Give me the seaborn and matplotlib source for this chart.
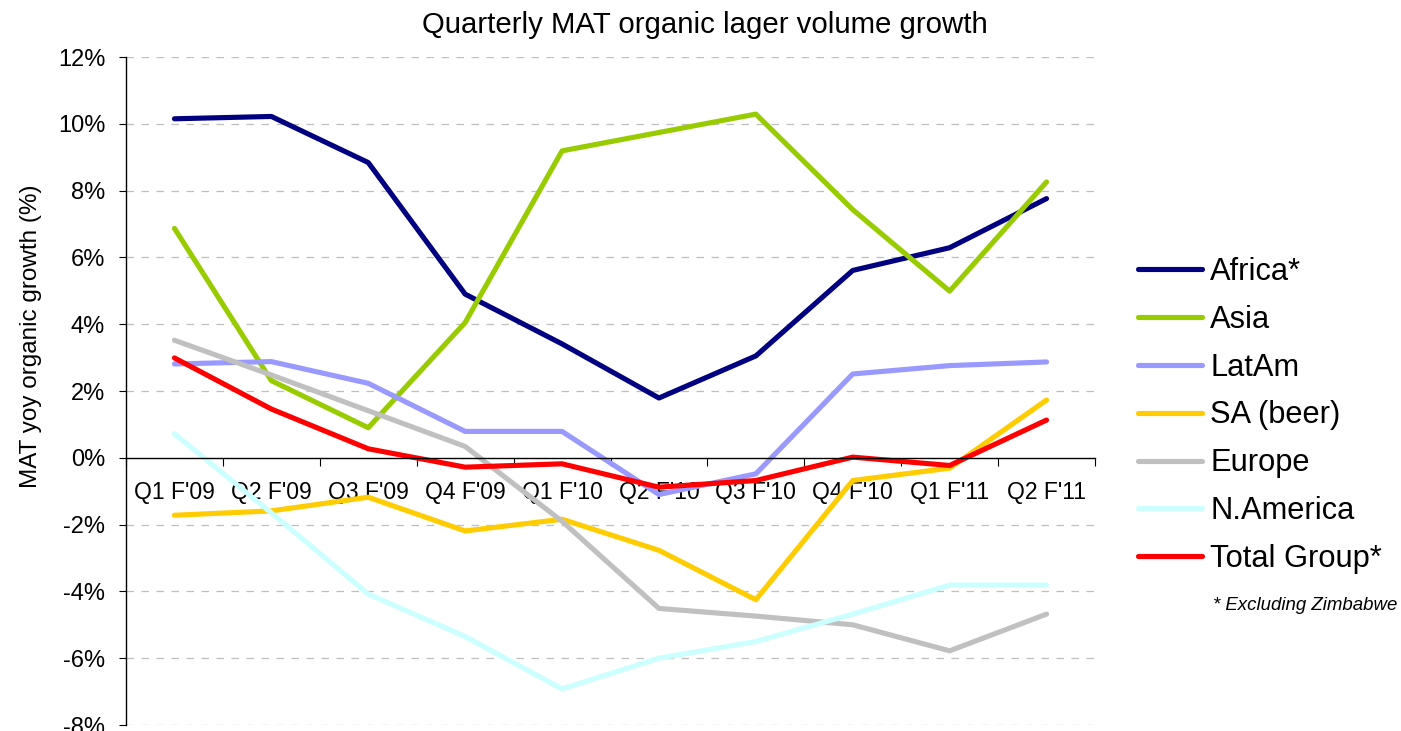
import numpy as np
import pandas as pd
import matplotlib
matplotlib.use("Agg")
import matplotlib.pyplot as plt
import seaborn as sns
from matplotlib.ticker import FixedLocator, FuncFormatter

quarters = ["Q1 F'09", "Q2 F'09", "Q3 F'09", "Q4 F'09", "Q1 F'10",
            "Q2 F'10", "Q3 F'10", "Q4 F'10", "Q1 F'11", "Q2 F'11"]

africa = [10.15, 10.22, 8.84, 4.90, 3.41, 1.79, 3.05, 5.61, 6.29, 7.76]
asia = [6.87, 2.31, 0.90, 4.05, 9.19, 9.74, 10.29, 7.43, 4.99, 8.26]
latam = [2.81, 2.88, 2.23, 0.79, 0.79, -1.10, -0.48, 2.51, 2.76, 2.87]
sa_beer = [-1.72, -1.59, -1.18, -2.19, -1.84, -2.77, -4.25, -0.68, -0.31, 1.73]
europe = [3.52, 2.48, 1.41, 0.34, -1.90, -4.51, -4.74, -5.00, -5.78, -4.68]
n_america = [0.72, -1.65, -4.08, -5.35, -6.92, -6.00, -5.50, -4.68, -3.81, -3.81]
total_group = [2.99, 1.46, 0.27, -0.28, -0.18, -0.88, -0.68, 0.02, -0.23, 1.13]

series_names = ["Africa*", "Asia", "LatAm", "SA (beer)", "Europe", "N.America", "Total Group*"]
series_values = [africa, asia, latam, sa_beer, europe, n_america, total_group]
colors = ["#000080", "#99CC00", "#9999FF", "#FFCC00", "#C0C0C0", "#CCFFFF", "#FF0000"]

sns.set_style("white")
plt.rcParams['font.family'] = ['Liberation Sans', 'DejaVu Sans']
plt.rcParams['text.color'] = 'black'
plt.rcParams['axes.labelcolor'] = 'black'
plt.rcParams['xtick.color'] = 'black'
plt.rcParams['ytick.color'] = 'black'

rows = []
for name, vals in zip(series_names, series_values):
    for i, v in enumerate(vals):
        rows.append({"idx": i, "value": v, "series": name})
df = pd.DataFrame(rows)

W, H = 1401, 731
fig = plt.figure(figsize=(W / 100, H / 100), dpi=100)
ax = fig.add_axes([126 / W, 1 - 725 / H, (1095 - 126) / W, (725 - 57) / H])

sns.lineplot(data=df, x="idx", y="value", hue="series", hue_order=series_names,
             palette=dict(zip(series_names, colors)), linewidth=3.7, sort=False,
             ax=ax, legend=False, solid_capstyle="round")

ax.set_xlim(-0.5, 9.5)
ax.set_ylim(-8, 12)

# y axis
yt = np.arange(-8, 13, 2)
ax.set_yticks(yt)
ax.yaxis.set_major_formatter(FuncFormatter(lambda v, p: f"{int(round(v))}%"))
ax.tick_params(axis="y", direction="out", length=5, width=0.8, pad=10,
               labelsize=17, left=True, color="black", labelcolor="black")
for v in yt:
    if v != 0:
        ax.axhline(v, color="#BFBFBF", linewidth=0.9, linestyle=(0, (6, 6)), zorder=0)

# x axis at zero
ax.spines["bottom"].set_position(("data", 0))
ax.spines["top"].set_visible(False)
ax.spines["right"].set_visible(False)
ax.spines["left"].set_color("black")
ax.spines["bottom"].set_color("black")
ax.spines["left"].set_linewidth(1.0)
ax.spines["bottom"].set_linewidth(1.0)
ax.set_xticks(range(len(quarters)))
ax.set_xticklabels(quarters)
ax.xaxis.set_minor_locator(FixedLocator(np.arange(-0.5, 10, 1.0)))
ax.tick_params(axis="x", which="major", length=0, pad=17, labelsize=16.5,
               labelcolor="black")
ax.tick_params(axis="x", which="minor", direction="out", length=6, width=0.8,
               bottom=True, color="black")
ax.set_xlabel("")
ax.set_ylabel("")

fig.text(31 / W, 1 - 336 / H, "MAT yoy organic growth (%)", rotation=90,
         ha="center", va="center", fontsize=17.5)
fig.text(705 / W, 1 - 25 / H, "Quarterly MAT organic lager volume growth",
         ha="center", va="center", fontsize=21.2)

handles = [plt.Line2D([0], [0], color=c, linewidth=3.7, solid_capstyle="round") for c in colors]
fig.legend(handles, series_names, loc="center left",
           bbox_to_anchor=(1138 / W, 1 - 415.5 / H), frameon=False, fontsize=22.2,
           handlelength=2.08, handletextpad=0.26, labelspacing=0.58,
           borderpad=0, borderaxespad=0)
fig.text(1397 / W, 1 - 605 / H, "* Excluding Zimbabwe", ha="right", va="center",
         fontsize=13.4, style="italic")

fig.savefig("out.png", dpi=100)
